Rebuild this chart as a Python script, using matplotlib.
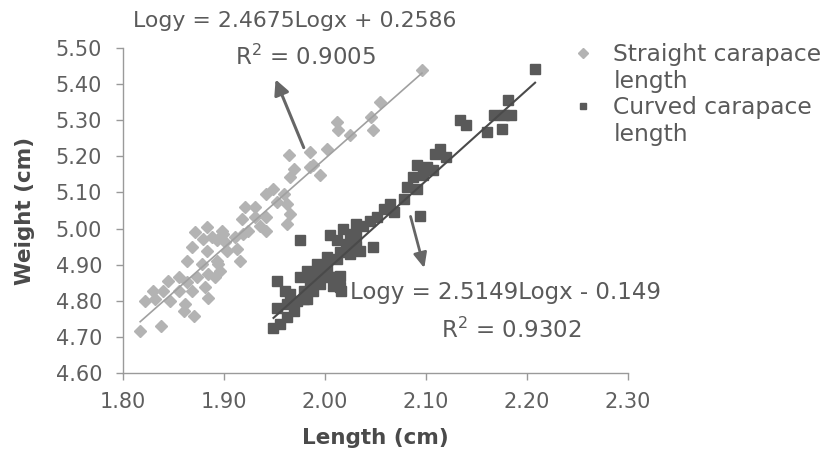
import matplotlib
matplotlib.use("Agg")
import matplotlib.pyplot as plt
from matplotlib.lines import Line2D
import numpy as np

plt.rcParams['font.family'] = ['DejaVu Sans']

# Straight carapace length
straight_x = [2.096, 2.054, 2.046, 2.048, 2.012, 2.013, 2.025, 2.002, 1.985, 1.964,
              1.988, 1.995, 1.969, 1.965, 1.949, 1.942, 1.959, 1.952, 1.962, 1.921,
              1.931, 1.965, 1.962, 1.942, 1.936, 1.942, 1.918, 1.924, 1.911, 1.871,
              1.883, 1.879, 1.893, 1.899, 1.868, 1.883, 1.903, 1.913, 1.916, 1.863,
              1.878, 1.893, 1.896, 1.884, 1.855, 1.845, 1.863, 1.873, 1.840, 1.855,
              1.868, 1.881, 1.884, 1.830, 1.832, 1.822, 1.847, 1.861, 1.860, 1.870,
              1.838, 1.817, 1.901, 1.919, 1.931, 1.898, 1.888, 1.894, 1.891, 1.985]
straight_y = [5.439, 5.351, 5.309, 5.272, 5.295, 5.272, 5.258, 5.221, 5.212, 5.203,
              5.175, 5.147, 5.166, 5.143, 5.110, 5.096, 5.096, 5.073, 5.068, 5.059,
              5.059, 5.041, 5.013, 5.031, 5.008, 4.994, 5.027, 4.994, 4.976, 4.990,
              5.004, 4.971, 4.967, 4.985, 4.948, 4.939, 4.939, 4.944, 4.911, 4.911,
              4.902, 4.911, 4.883, 4.874, 4.865, 4.856, 4.851, 4.865, 4.828, 4.828,
              4.828, 4.837, 4.809, 4.828, 4.805, 4.800, 4.800, 4.791, 4.772, 4.758,
              4.731, 4.717, 4.962, 4.985, 5.031, 4.994, 4.976, 4.902, 4.865, 5.170]

# Curved carapace length
curved_x = [2.208, 2.181, 2.167, 2.177, 2.184, 2.175, 2.160, 2.134, 2.140, 2.114,
            2.109, 2.120, 2.091, 2.101, 2.107, 2.087, 2.097, 2.081, 2.091, 2.078,
            2.064, 2.058, 2.068, 2.094, 2.051, 2.045, 2.031, 2.038, 2.018, 2.025,
            2.031, 2.005, 2.012, 1.975, 2.021, 2.031, 2.048, 2.015, 2.025, 2.035,
            2.002, 2.012, 1.992, 2.002, 1.982, 1.988, 1.995, 2.005, 2.015, 1.975,
            1.985, 1.995, 2.008, 2.015, 1.979, 1.988, 1.952, 1.960, 1.965, 1.982,
            1.952, 1.962, 1.972, 1.969, 1.962, 1.949, 1.955, 2.011, 2.016, 1.979]
curved_y = [5.441, 5.356, 5.314, 5.314, 5.314, 5.277, 5.268, 5.300, 5.286, 5.221,
            5.207, 5.198, 5.175, 5.170, 5.161, 5.143, 5.147, 5.115, 5.110, 5.082,
            5.068, 5.054, 5.045, 5.036, 5.031, 5.022, 5.013, 5.008, 4.999, 4.985,
            4.981, 4.981, 4.967, 4.967, 4.957, 4.953, 4.948, 4.934, 4.930, 4.939,
            4.921, 4.916, 4.902, 4.897, 4.883, 4.879, 4.874, 4.865, 4.870, 4.865,
            4.856, 4.846, 4.842, 4.837, 4.828, 4.828, 4.856, 4.828, 4.819, 4.805,
            4.781, 4.791, 4.800, 4.772, 4.754, 4.726, 4.735, 4.865, 4.828, 4.805]

straight_coef = (2.4675, 0.2586)
curved_coef = (2.5149, -0.149)
legend_lines = ["Straight carapace", "length", "Curved carapace", "length"]
eq_straight = "Logy = 2.4675Logx + 0.2586"
r2_straight = "R$^2$ = 0.9005"
eq_curved = "Logy = 2.5149Logx - 0.149"
r2_curved = "R$^2$ = 0.9302"
x_ticks = [1.80, 1.90, 2.00, 2.10, 2.20, 2.30]
y_ticks = [4.60, 4.70, 4.80, 4.90, 5.00, 5.10, 5.20, 5.30, 5.40, 5.50]

light = '#b3b3b3'
dark = '#595959'
text_c = '#5a5a5a'

fig = plt.figure(figsize=(8.28, 4.49), dpi=100)
ax = fig.add_axes([123/828, 1 - 373/449, (628 - 123)/828, (373 - 48)/449])

ax.plot(straight_x, straight_y, linestyle='none', marker='D', ms=6.5,
        color=light, mec=light, zorder=3)
ax.plot(curved_x, curved_y, linestyle='none', marker='s', ms=6.5,
        color=dark, mec=dark, zorder=3)

xs = np.array([min(straight_x), max(straight_x)])
ax.plot(xs, straight_coef[0] * xs + straight_coef[1], color='#a0a0a0', lw=1.2, zorder=4)
xc = np.array([min(curved_x), max(curved_x)])
ax.plot(xc, curved_coef[0] * xc + curved_coef[1], color='#4a4a4a', lw=1.5, zorder=4)

ax.set_xlim(1.80, 2.30)
ax.set_ylim(4.60, 5.50)
ax.set_xticks(x_ticks)
ax.set_xticklabels([f"{v:.2f}" for v in x_ticks])
ax.set_yticks(y_ticks)
ax.set_yticklabels([f"{v:.2f}" for v in y_ticks])
ax.tick_params(axis='both', direction='out', length=5, width=1, color='#999999',
               labelcolor='#5f5f5f', labelsize=15)
ax.tick_params(axis='x', pad=9)
ax.tick_params(axis='y', pad=10)
for s in ['top', 'right']:
    ax.spines[s].set_visible(False)
for s in ['left', 'bottom']:
    ax.spines[s].set_color('#9a9a9a')
    ax.spines[s].set_linewidth(1)

ax.set_xlabel("Length (cm)", fontsize=15.5, fontweight='bold', color='#4a4a4a', labelpad=11)
ax.set_ylabel("Weight (cm)", fontsize=15.5, fontweight='bold', color='#4a4a4a', labelpad=15)

# arrows
ax.annotate("", xy=(1.950, 5.420), xytext=(1.980, 5.217),
            arrowprops=dict(arrowstyle='-|>,head_length=0.9,head_width=0.45',
                            color='#666666', lw=2.2), zorder=5)
ax.annotate("", xy=(2.099, 4.883), xytext=(2.084, 5.041),
            arrowprops=dict(arrowstyle='-|>,head_length=0.9,head_width=0.4',
                            color='#666666', lw=2.0), zorder=5)

# equations
fig.text(133/828, 1 - 21/449, eq_straight, ha='left', va='center', fontsize=15.8, color=text_c)
fig.text(305/828, 1 - 57/449, r2_straight, ha='center', va='center', fontsize=16.5, color=text_c)
fig.text(350/828, 1 - 292/449, eq_curved, ha='left', va='center', fontsize=16.5, color=text_c)
fig.text(511/828, 1 - 330/449, r2_curved, ha='center', va='center', fontsize=16.5, color=text_c)

blank = Line2D([], [], linestyle='none', marker=None)
handles = [Line2D([], [], linestyle='none', marker='D', ms=5, color=light), blank,
           Line2D([], [], linestyle='none', marker='s', ms=5, color=dark), blank]
leg = fig.legend(handles, legend_lines, loc='upper left',
                 bbox_to_anchor=(562/828, 1 - 34/449), frameon=False,
                 fontsize=16.8, handlelength=1.0, handletextpad=0.8,
                 labelspacing=0.15, borderaxespad=0)
for t in leg.get_texts():
    t.set_color(text_c)

fig.savefig("out.png", dpi=100)
